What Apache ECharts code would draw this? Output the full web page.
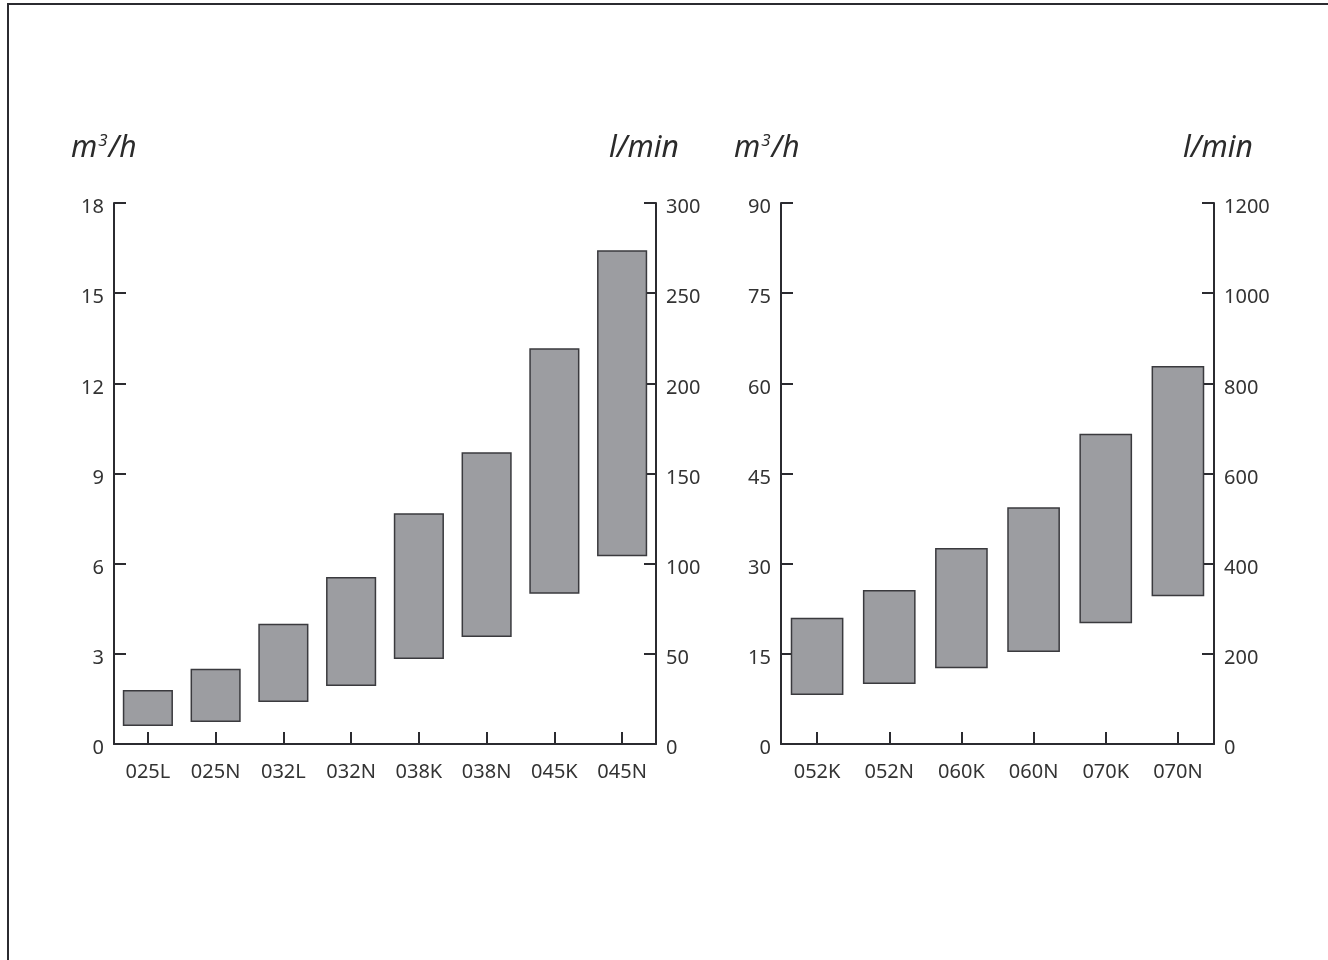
<!DOCTYPE html>
<html>
<head>
<meta charset="utf-8">
<script src="https://cdn.jsdelivr.net/npm/echarts@6/dist/echarts.min.js"></script>
<style>
html,body{margin:0;padding:0;background:#fff;}
#c{width:1328px;height:960px;}
</style>
</head>
<body>
<div id="c"></div>
<script>
// Left chart
var catsA = ['025L','025N','032L','032N','038K','038N','045K','045N'];
var lowA  = [0.6, 0.73, 1.4, 1.93, 2.83, 3.56, 5.0, 6.25];
var highA = [1.8, 2.5, 4.0, 5.56, 7.68, 9.71, 13.17, 16.43];
// Right chart
var catsB = ['052K','052N','060K','060N','070K','070N'];
var lowB  = [8.15, 10.0, 12.6, 15.3, 20.1, 24.6];
var highB = [21.0, 25.6, 32.6, 39.4, 51.6, 62.9];

var FONT = 'Noto Sans';
var AX = '#2b2b30';
var TXT = '#333';
var BAR = '#9c9da1';

function rng(lo, hi){ return hi.map(function(h,i){ return +(h - lo[i]).toFixed(3); }); }

function yAx(grid, min, max, interval, pos){
  return {
    type:'value', gridIndex:grid, min:min, max:max, interval:interval, position:pos,
    axisLine:{show:true, lineStyle:{color:AX, width:2}},
    axisTick:{show:true, inside:true, length:12, lineStyle:{color:AX, width:2}},
    axisLabel:{color:TXT, fontFamily:FONT, fontSize:20, margin:10, verticalAlign:'top', lineHeight:9,
               formatter:function(v){ return String(v); }},
    splitLine:{show:false}
  };
}
function xAx(grid, cats){
  return {
    type:'category', gridIndex:grid, data:cats,
    axisLine:{show:true, lineStyle:{color:AX, width:2}},
    axisTick:{show:true, inside:true, alignWithLabel:true, length:12, lineStyle:{color:AX, width:2}},
    axisLabel:{color:TXT, fontFamily:FONT, fontSize:20, margin:18}
  };
}
function title(x, y, unit){
  var txt = unit === 'm3' ? 'm{s|3}/h' : 'l/min';
  return {
    type:'text', left:x, top:y,
    style:{
      text:txt, fill:'#2b2b2b', font:'italic 30px ' + FONT,
      rich:{ s:{fontSize:17, fontStyle:'italic', fontFamily:FONT, fill:'#2b2b2b', verticalAlign:'top', padding:[0,1,13,1]} }
    }
  };
}

var chart = echarts.init(document.getElementById('c'));
chart.setOption({
  backgroundColor:'#fff',
  animation:false,
  grid:[
    {left:114, right:672, top:203, bottom:216},
    {left:781, right:114, top:203, bottom:216}
  ],
  xAxis:[ xAx(0, catsA), xAx(1, catsB) ],
  yAxis:[
    yAx(0, 0, 18, 3, 'left'),
    yAx(0, 0, 300, 50, 'right'),
    yAx(1, 0, 90, 15, 'left'),
    yAx(1, 0, 1200, 200, 'right')
  ],
  series:[
    {type:'bar', xAxisIndex:0, yAxisIndex:0, stack:'a', data:lowA, barWidth:'74%',
     itemStyle:{color:'transparent'}, silent:true},
    {type:'bar', xAxisIndex:0, yAxisIndex:0, stack:'a', data:rng(lowA, highA), barWidth:'74%',
     itemStyle:{color:BAR, borderColor:'#3a3a3e', borderWidth:1.5}},
    {type:'bar', xAxisIndex:1, yAxisIndex:2, stack:'b', data:lowB, barWidth:'73%',
     itemStyle:{color:'transparent'}, silent:true},
    {type:'bar', xAxisIndex:1, yAxisIndex:2, stack:'b', data:rng(lowB, highB), barWidth:'73%',
     itemStyle:{color:BAR, borderColor:'#3a3a3e', borderWidth:1.5}}
  ],
  graphic:[
    {type:'polyline', shape:{points:[[8,962],[8,4],[1330,4]]}, style:{stroke:'#2b2b30', lineWidth:2, fill:null}},
    title(71, 133, 'm3'),
    title(609, 133, 'l'),
    title(734, 133, 'm3'),
    title(1183, 133, 'l')
  ]
});
</script>
</body>
</html>
